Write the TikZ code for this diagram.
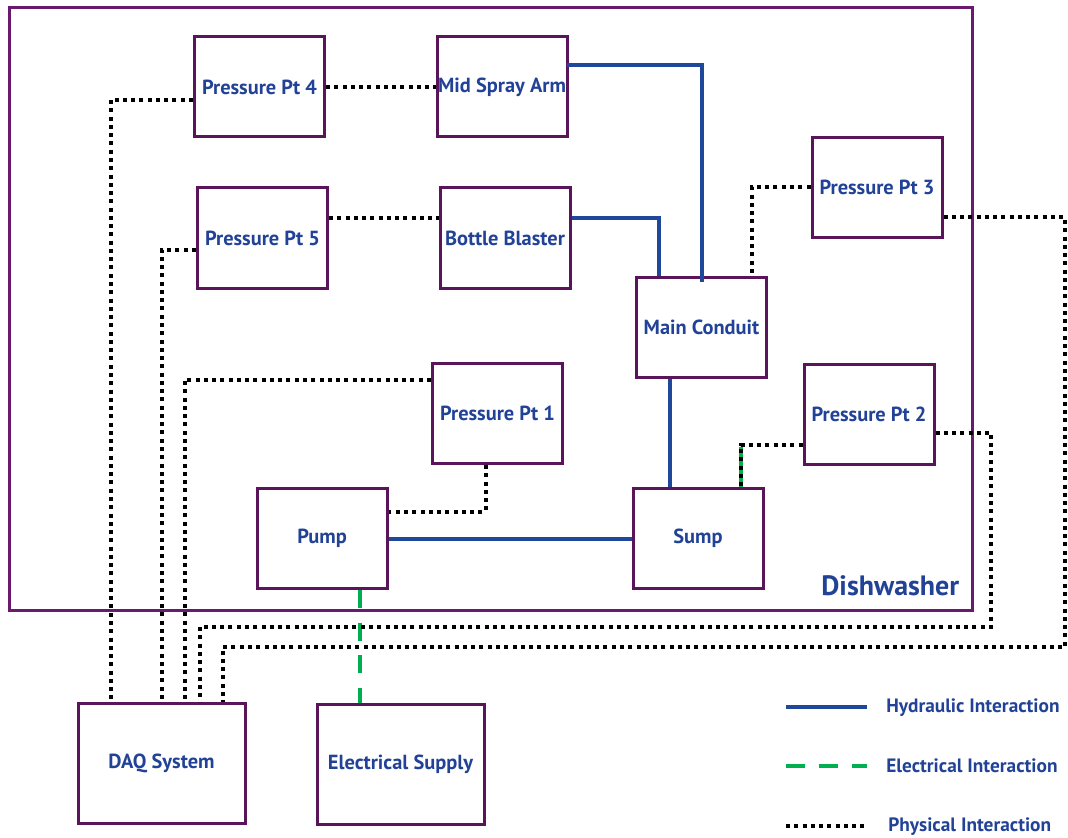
\documentclass[tikz,border=0pt]{standalone}
\usepackage{fontspec}
\setmainfont{PT Sans}
\usetikzlibrary{
  calc,
}
\definecolor{txtblue}{RGB}{33,66,150}
\definecolor{hydblue}{RGB}{31,72,155}
\definecolor{boxpurple}{RGB}{90,20,90}
\definecolor{dwpurple}{RGB}{106,26,110}
\definecolor{elecgreen}{RGB}{0,176,80}
\def\px{0.75pt}

\begin{document}
\begin{tikzpicture}[
    x=0.75pt, y=-0.75pt,
    box/.style={
        rectangle, draw=boxpurple, line width=2.25pt, fill=white,
        minimum width=130*\px, minimum height=100*\px,
        text=txtblue, font=\fontsize{15.3}{17}\selectfont\bfseries,
        inner sep=0pt,
      },
    bigbox/.style={
        box, minimum width=167*\px, minimum height=120*\px,
      },
    hyd/.style={
        hydblue, line width=3pt,
      },
    elec/.style={
        elecgreen, line width=3pt, dash pattern=on 13.5pt off 11pt,
      },
    phys/.style={
        black, line width=3pt, dash pattern=on 3pt off 3.2pt,
      },
    legtext/.style={
        anchor=west, text=txtblue, font=\fontsize{14.5}{17}\selectfont\bfseries,
        inner sep=0pt,
      }
  ]
  \useasboundingbox (0,0) rectangle (1068,838);
  \draw[dwpurple, line width=2.25pt] (9,8) rectangle (972,610);
  \node[text=txtblue, anchor=east, font=\fontsize{21}{24}\selectfont\bfseries]
    (dwlabel) at (964,586) {Dishwasher};

  \foreach \nm/\x/\y/\t in {
      pp4/259.5/87/Pressure Pt 4,
      msa/502/87/Mid Spray Arm,
      pp5/262.5/238/Pressure Pt 5,
      bb/505/238/Bottle Blaster,
      pp3/877/187.5/Pressure Pt 3,
      mc/701.5/327.5/Main Conduit,
      pp1/497.5/413.5/Pressure Pt 1,
      pp2/869/414.5/Pressure Pt 2,
      pump/322/538.5/Pump,
      sump/698/538/Sump
    }{
      \node[box] (\nm) at (\x,\y) {\t};
    }
  \node[bigbox] (daq) at (161.5,763) {DAQ System};
  \node[bigbox] (es) at (400.5,764.5) {Electrical Supply};

  % hydraulic
  \draw[hyd] ($(msa.east)+(-2,-22)$) -| ($(mc.north)+(0,6)$);
  \draw[hyd] ($(bb.east)+(0,-20)$) -| ($(mc.north)+(-43,0)$);
  \draw[hyd] ($(mc.south)+(-32,0)$) coordinate (mcs) -- (mcs |- sump.north);
  \draw[hyd] (pump.east) -- (pump.east -| sump.west);

  % electrical
  \draw[elec] ($(pump.south)+(38,0)$) coordinate (ps) -- (ps |- es.north);
  \draw[elecgreen, line width=3pt] ($(sump.north)+(43,-40)$) -- ($(sump.north)+(43,0)$);

  % physical
  \coordinate (turn2) at (991,627);
  \coordinate (turn3) at (1065,647);
  \draw[phys] ($(pp4.west)+(0,13)$) -| ($(daq.north)+(-51,0)$);
  \draw[phys] (pp4.east) -- (msa.west);
  \draw[phys] ($(pp5.west)+(0,12)$) -| (daq.north);
  \draw[phys] ($(pp5.east)+(0,-20)$) -- ($(bb.west)+(0,-20)$);
  \draw[phys] ($(pp1.west)+(0,-34)$) -| ($(daq.north)+(23,0)$);
  \draw[phys] ($(pp1.south)+(-12,0)$) |- ($(pump.east)+(0,-27)$);
  \draw[phys] (pp3.west) -| ($(mc.north)+(50,0)$);
  \draw[phys] ($(pp3.east)+(0,30)$) -| (turn3) -| ($(daq.north)+(61,0)$);
  \draw[phys] ($(pp2.west)+(0,30)$) -| ($(sump.north)+(43,0)$);
  \draw[phys] ($(pp2.east)+(0,18)$) -| (turn2) -| ($(daq.north)+(38,0)$);

  % legend
  \node[legtext] (lhyd) at (886,708) {Hydraulic Interaction};
  \node[legtext] (lelec) at (886,766) {Electrical Interaction};
  \node[legtext] (lphys) at (888,827) {Physical Interaction};
  \draw[hyd] ($(lhyd.west)+(-100,-1)$) -- ++(81,0);
  \draw[elec, dash pattern=on 14.25pt off 10.5pt] ($(lelec.west)+(-100,0)$) -- ++(81,0);
  \draw[phys] ($(lphys.west)+(-102,-1)$) -- ++(81,0);
\end{tikzpicture}
\end{document}
